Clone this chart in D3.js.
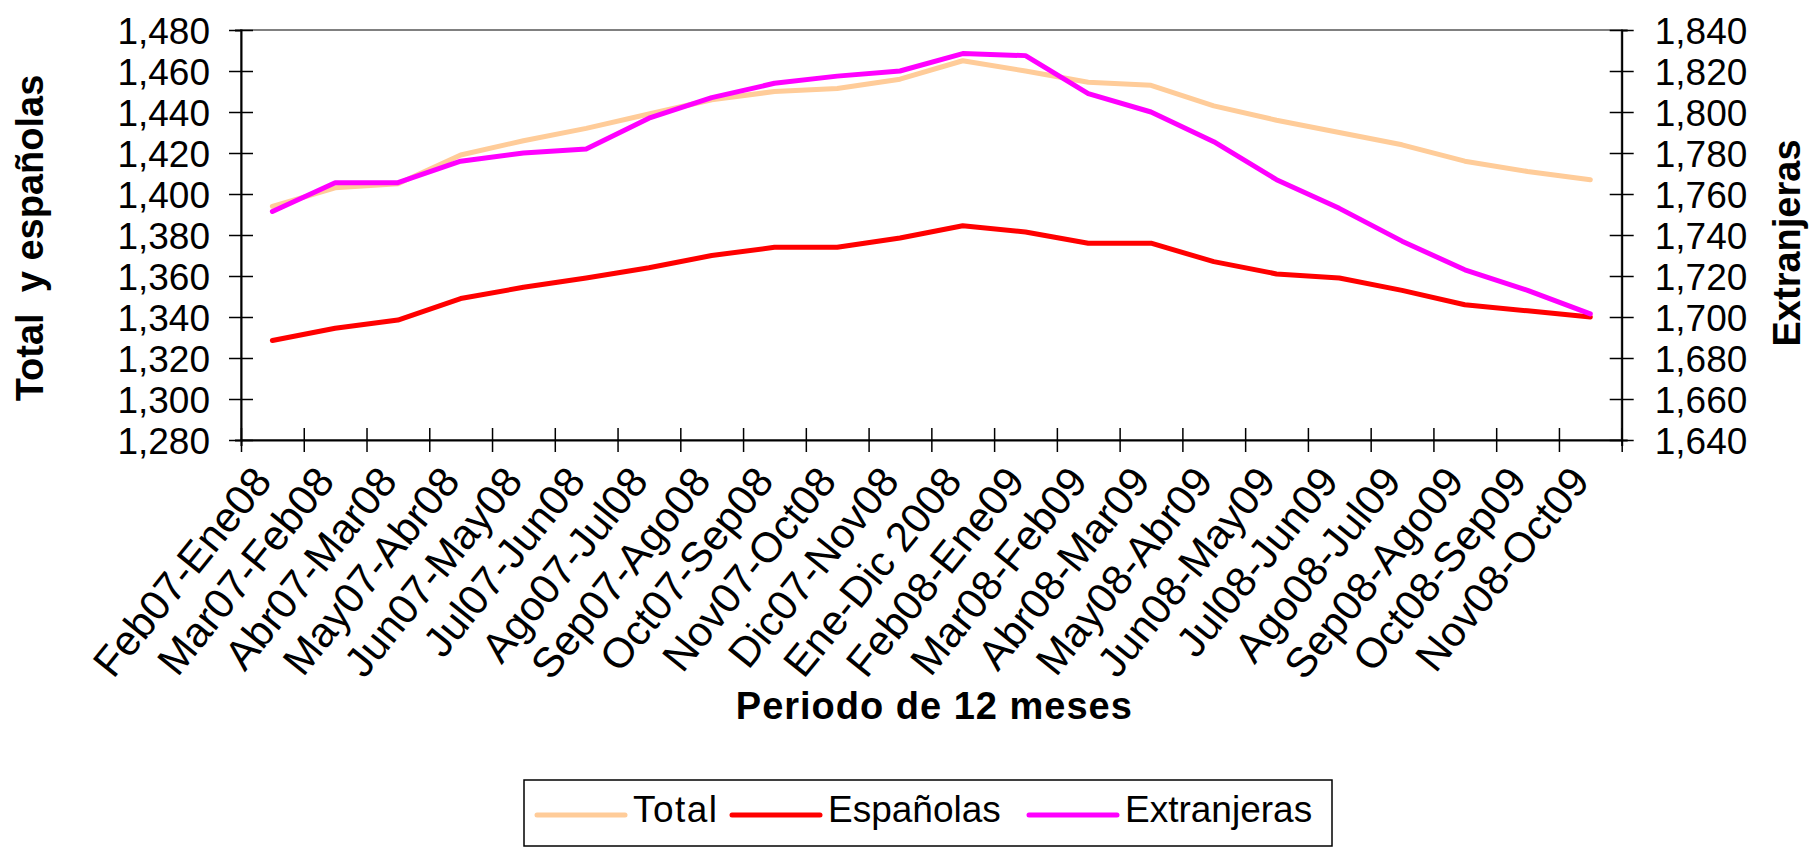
<!DOCTYPE html>
<html>
<head>
<meta charset="utf-8">
<script src="https://cdn.jsdelivr.net/npm/d3@7"></script>
<style>
  body { margin: 0; background: #fff; }
  text { font-family: "Liberation Sans", Arial, sans-serif; fill: #000; }
</style>
</head>
<body>
<div id="chart"></div>
<script>
var periods = ["Feb07-Ene08", "Mar07-Feb08", "Abr07-Mar08", "May07-Abr08", "Jun07-May08",
  "Jul07-Jun08", "Ago07-Jul08", "Sep07-Ago08", "Oct07-Sep08", "Nov07-Oct08", "Dic07-Nov08",
  "Ene-Dic 2008", "Feb08-Ene09", "Mar08-Feb09", "Abr08-Mar09", "May08-Abr09", "Jun08-May09",
  "Jul08-Jun09", "Ago08-Jul09", "Sep08-Ago09", "Oct08-Sep09", "Nov08-Oct09"];

var total = [1394, 1403, 1405, 1419, 1426, 1432, 1439, 1446, 1450, 1451.5, 1456, 1465,
  1460, 1454.5, 1453, 1443, 1436, 1430, 1424, 1416, 1411, 1407];
var espanolas = [1328.5, 1334.5, 1338.5, 1349, 1354.5, 1359, 1364, 1370, 1374, 1374, 1378.5,
  1384.5, 1381.5, 1376, 1376, 1367, 1361, 1359, 1353, 1346, 1343, 1340];
var extranjeras = [1751.5, 1765.5, 1765.5, 1776, 1780, 1782, 1797, 1807, 1814, 1817.5, 1820,
  1828.5, 1827.5, 1809, 1800, 1785.5, 1767, 1753, 1737, 1723, 1713, 1701.5];

var leftTicks = d3.range(1280, 1481, 20);
var rightTicks = d3.range(1640, 1841, 20);

var series = [
  { name: "Total", values: total, axis: "left", color: "#FFCC99" },
  { name: "Españolas", values: espanolas, axis: "left", color: "#FF0000" },
  { name: "Extranjeras", values: extranjeras, axis: "right", color: "#FF00FF" }
];

var width = 1810, height = 848;
var plotLeft = 241, plotRight = 1621.7, plotTop = 30, plotBottom = 440;

var svg = d3.select("#chart").append("svg")
  .attr("width", width)
  .attr("height", height);

var x = d3.scaleBand().domain(periods).range([plotLeft, plotRight]).padding(0);
var xEdge = d3.scaleLinear().domain([0, periods.length]).range([plotLeft, plotRight]);
var yL = d3.scaleLinear().domain([1280, 1480]).range([plotBottom, plotTop]);
var yR = d3.scaleLinear().domain([1640, 1840]).range([plotBottom, plotTop]);

// plot area border (gray)
svg.append("rect")
  .attr("x", plotLeft).attr("y", plotTop)
  .attr("width", plotRight - plotLeft).attr("height", plotBottom - plotTop)
  .attr("fill", "none").attr("stroke", "#808080").attr("stroke-width", 2);

// left axis
var gL = svg.append("g").attr("transform", "translate(" + plotLeft + ",0)")
  .call(d3.axisLeft(yL).tickValues(leftTicks).tickFormat(d3.format(",")));
// right axis
var gR = svg.append("g").attr("transform", "translate(" + plotRight + ",0)")
  .call(d3.axisRight(yR).tickValues(rightTicks).tickFormat(d3.format(",")));
// bottom axis (ticks on category boundaries)
var gB = svg.append("g").attr("transform", "translate(0," + plotBottom + ")")
  .call(d3.axisBottom(xEdge).tickValues(d3.range(periods.length + 1)).tickFormat(""));

[gL, gR].forEach(function(g) {
  g.select(".domain").attr("stroke", "#000").attr("stroke-width", 2);
  g.selectAll(".tick line").attr("x1", -12).attr("x2", 12)
    .attr("stroke", "#000").attr("stroke-width", 1.5);
  g.selectAll(".tick text")
    .attr("font-size", 37)
    .attr("dy", "0.36em")
    .style("font-family", "'Liberation Sans', Arial, sans-serif");
});
gL.selectAll(".tick text").attr("x", -31);
gR.selectAll(".tick text").attr("x", 33);

gB.select(".domain").attr("stroke", "#000").attr("stroke-width", 2);
gB.selectAll(".tick line").attr("y1", -12).attr("y2", 12)
  .attr("stroke", "#000").attr("stroke-width", 1.5);

// category labels, rotated
svg.append("g").selectAll("text")
  .data(periods)
  .enter().append("text")
    .attr("transform", function(d) {
      var cx = x(d) + x.bandwidth() / 2 + 1;
      return "translate(" + cx + ",482) rotate(-51)";
    })
    .attr("text-anchor", "end")
    .attr("font-size", 42)
    .text(function(d) { return d; });

// lines
var line = function(s) {
  var y = s.axis === "left" ? yL : yR;
  return d3.line()
    .x(function(d, i) { return x(periods[i]) + x.bandwidth() / 2; })
    .y(function(d) { return y(d); });
};

series.forEach(function(s) {
  svg.append("path")
    .datum(s.values)
    .attr("d", line(s))
    .attr("fill", "none")
    .attr("stroke", s.color)
    .attr("stroke-width", 5)
    .attr("stroke-linejoin", "round")
    .attr("stroke-linecap", "round");
});

// axis titles
svg.append("text")
  .attr("transform", "translate(43,238) rotate(-90)")
  .attr("text-anchor", "middle")
  .attr("font-size", 38)
  .attr("font-weight", "bold")
  .style("white-space", "pre")
  .text("Total  y españolas");

svg.append("text")
  .attr("transform", "translate(1800,243) rotate(-90)")
  .attr("text-anchor", "middle")
  .attr("font-size", 38)
  .attr("font-weight", "bold")
  .text("Extranjeras");

svg.append("text")
  .attr("x", (plotLeft + plotRight) / 2 + 3)
  .attr("y", 719)
  .attr("text-anchor", "middle")
  .attr("font-size", 38)
  .attr("font-weight", "bold")
  .attr("letter-spacing", 1)
  .text("Periodo de 12 meses");

// legend
var legend = svg.append("g");
legend.append("rect")
  .attr("x", 524).attr("y", 780)
  .attr("width", 808).attr("height", 66)
  .attr("fill", "#fff").attr("stroke", "#000").attr("stroke-width", 1.5);

var legendX = [537, 732, 1029];
series.forEach(function(s, i) {
  legend.append("line")
    .attr("x1", legendX[i]).attr("x2", legendX[i] + 88)
    .attr("y1", 815).attr("y2", 815)
    .attr("stroke", s.color).attr("stroke-width", 5)
    .attr("stroke-linecap", "round");
  legend.append("text")
    .attr("x", legendX[i] + 96)
    .attr("y", 822)
    .attr("font-size", 37)
    .attr("textLength", i === 0 ? 84 : null)
    .text(s.name);
});
</script>
</body>
</html>
